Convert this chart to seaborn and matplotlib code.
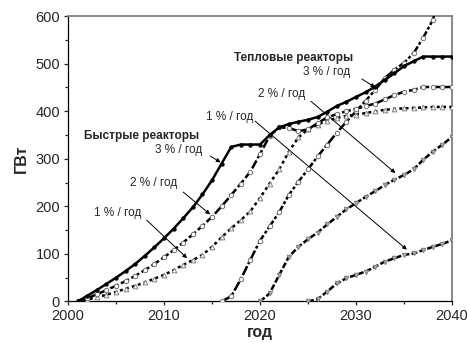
import numpy as np
import pandas as pd
import matplotlib
matplotlib.use("Agg")
import matplotlib.pyplot as plt
import seaborn as sns

# ---- data: installed capacity, GW ----
fast_years = list(range(2001, 2041))
fast_3 = [0, 12, 24, 37, 50, 64, 79, 96, 114, 133, 153, 175, 198, 225, 255, 290, 325,
          330, 330, 330, 350, 366, 373, 378, 382, 388, 399, 411, 420, 430, 440, 452,
          466, 480, 495, 505, 515, 515, 515, 515]
fast_2 = [0, 7, 15, 24, 33, 43, 54, 66, 79, 93, 108, 124, 141, 159, 178, 200, 224,
          248, 273, 310, 348, 366, 365, 358, 362, 375, 387, 394, 400, 405, 411, 416,
          425, 434, 441, 445, 451, 451, 451, 451]
fast_1 = [0, 4, 9, 14, 20, 27, 33, 40, 48, 56, 66, 77, 87, 98, 115, 135, 154, 171,
          190, 218, 248, 278, 315, 345, 362, 372, 380, 386, 390, 393, 396, 400, 403,
          405, 406, 407, 408, 409, 409, 409]

thermal3_years = list(range(2016, 2040))
thermal_3 = [0, 11, 47, 88, 128, 158, 188, 224, 252, 278, 305, 330, 355, 378, 400,
             422, 445, 470, 487, 502, 522, 555, 592, 660]
thermal2_years = list(range(2020, 2041))
thermal_2 = [0, 17, 56, 94, 115, 131, 145, 162, 178, 194, 207, 220, 232, 245, 256,
             266, 278, 298, 315, 330, 346]
thermal1_years = list(range(2025, 2041))
thermal_1 = [0, 5, 21, 38, 49, 56, 63, 73, 84, 91, 98, 101, 108, 115, 121, 129]

sns.set_style("ticks")
plt.rcParams["font.family"] = ["Liberation Sans", "DejaVu Sans"]

fig = plt.figure(figsize=(4.67, 3.43), dpi=100)
ax = fig.add_axes([0.1456, 0.121, 0.8224, 0.832])

LW = 1.8
styles = [
    # (years, values, linestyle, marker, face, edge, msize, zorder)
    (thermal1_years, thermal_1, (0, (2.4, 0.9)), "v", "#b0b0b0", "#808080", 3.2, 3),
    (thermal2_years, thermal_2, (0, (2.4, 0.9)), "v", "#b0b0b0", "#808080", 3.2, 3),
    (thermal3_years, thermal_3, (0, (4.0, 0.9, 1.2, 0.9)), "o", "white", "#707070", 3.2, 4),
    (fast_years, fast_1, (0, (1.2, 1.3)), "^", "white", "#808080", 3.4, 5),
    (fast_years, fast_2, (0, (3.6, 1.1)), "o", "white", "#707070", 3.2, 6),
    (fast_years, fast_3, "-", "o", "black", "black", 2.4, 7),
]
for yrs, vals, ls, mk, fc, ec, ms, z in styles:
    df = pd.DataFrame({"год": yrs, "ГВт": vals})
    sns.lineplot(data=df, x="год", y="ГВт", ax=ax, color="black", linewidth=LW,
                 linestyle=ls, marker=mk, markersize=ms, markerfacecolor=fc,
                 markeredgecolor=ec, markeredgewidth=0.7, legend=False, zorder=z)

ax.set_xlim(2000, 2040)
ax.set_ylim(0, 600)
ax.set_xticks(range(2000, 2041, 10))
ax.set_xticks(range(2005, 2040, 10), minor=True)
ax.set_yticks(range(0, 601, 100))
ax.set_yticks(range(50, 600, 100), minor=True)
ax.tick_params(which="major", direction="out", length=3.2, width=0.9, labelsize=10.5, pad=2.5)
ax.tick_params(which="minor", direction="out", length=2.4, width=0.9)
ax.tick_params(top=False, right=False)

for side in ("left", "bottom"):
    ax.spines[side].set_color("black")
    ax.spines[side].set_linewidth(0.9)
for side in ("top", "right"):
    ax.spines[side].set_visible(True)
    ax.spines[side].set_color("#808080")
    ax.spines[side].set_linewidth(1.3)

ax.set_xlabel("год", fontsize=11.5, fontweight="bold", labelpad=1)
ax.set_ylabel("ГВт", fontsize=11.5, fontweight="bold", labelpad=5)

# ---- annotations ----
def value_at(yrs, vals, year):
    return float(np.interp(year, yrs, vals))

arrow = dict(arrowstyle="-|>", color="black", lw=0.7, mutation_scale=6,
             shrinkA=0, shrinkB=0)
TXT = 8.5

ax.text(2007.7, 348, "Быстрые реакторы", fontsize=TXT, fontweight="bold",
        ha="center", va="center")
ax.text(2011.5, 318, "3 % / год", fontsize=TXT, ha="center", va="center")
ax.annotate("", xy=(2015.9, value_at(fast_years, fast_3, 2015.9) + 6),
            xytext=(2014.8, 306), arrowprops=arrow)
ax.text(2008.9, 249, "2 % / год", fontsize=TXT, ha="center", va="center")
ax.annotate("", xy=(2014.8, value_at(fast_years, fast_2, 2014.8) + 9),
            xytext=(2012.0, 230), arrowprops=arrow)
ax.text(2005.2, 186, "1 % / год", fontsize=TXT, ha="center", va="center")
ax.annotate("", xy=(2012.4, value_at(fast_years, fast_1, 2012.4) + 10),
            xytext=(2008.2, 171), arrowprops=arrow)

ax.text(2023.5, 513, "Тепловые реакторы", fontsize=TXT, fontweight="bold",
        ha="center", va="center")
ax.text(2026.9, 482, "3 % / год", fontsize=TXT, ha="center", va="center")
ax.annotate("", xy=(2032.0, value_at(thermal3_years, thermal_3, 2032.0) + 5),
            xytext=(2030.6, 468), arrowprops=arrow)
ax.text(2022.3, 436, "2 % / год", fontsize=TXT, ha="center", va="center")
ax.annotate("", xy=(2034.1, value_at(thermal2_years, thermal_2, 2034.1) + 13),
            xytext=(2025.3, 421), arrowprops=arrow)
ax.text(2016.8, 388, "1 % / год", fontsize=TXT, ha="center", va="center")
ax.annotate("", xy=(2035.3, value_at(thermal1_years, thermal_1, 2035.3) + 10),
            xytext=(2019.5, 379), arrowprops=arrow)

fig.savefig("out.png", dpi=100)
